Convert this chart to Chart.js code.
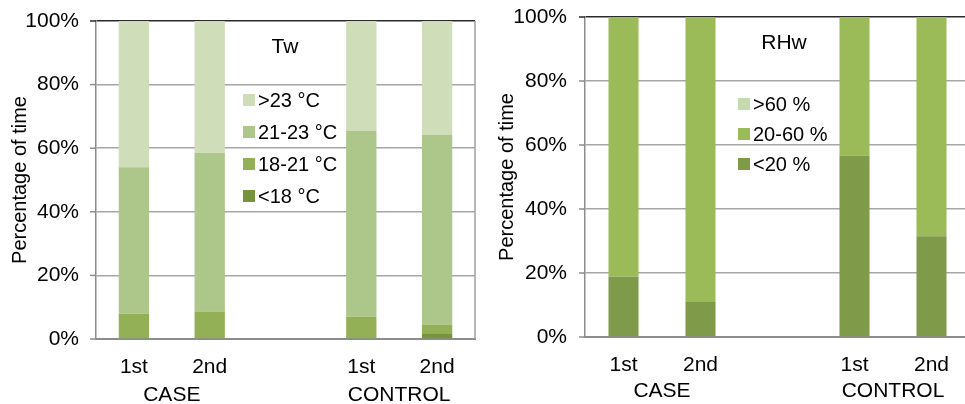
<!DOCTYPE html>
<html>
<head>
<meta charset="utf-8">
<script src="https://cdn.jsdelivr.net/npm/chart.js@4/dist/chart.umd.min.js"></script>
<style>
  body { margin: 0; background: #fff; overflow: hidden; width: 965px; height: 404px; position: relative; }
  .box { position: absolute; top: 0; height: 404px; }
</style>
</head>
<body>
<div class="box" style="left:0;width:482px"><canvas id="tw" width="482" height="404"></canvas></div>
<div class="box" style="left:482px;width:493px"><canvas id="rh" width="493" height="404"></canvas></div>
<script>
// bars: 1st/2nd for CASE, empty slot, 1st/2nd for CONTROL
var periods = ['1st', '2nd', '', '1st', '2nd'];
var groups = ['CASE', 'CONTROL'];
var yTicks = [0, 20, 40, 60, 80, 100];

var twLabels = ['<18 °C', '18-21 °C', '21-23 °C', '>23 °C'];
var twBelow18 = [0, 0, null, 0, 1.8];
var tw18to21 = [8.0, 8.6, null, 7.0, 2.7];
var tw21to23 = [46.0, 49.9, null, 58.4, 59.7];
var twAbove23 = [46.0, 41.5, null, 34.6, 35.8];

var rhLabels = ['<20 %', '20-60 %', '>60 %'];
var rhBelow20 = [18.8, 10.9, null, 56.7, 31.5];
var rh20to60 = [81.2, 89.1, null, 43.3, 68.5];
var rhAbove60 = [0, 0, null, 0, 0];

var FONT = "'Liberation Sans', Arial, sans-serif";

// legend + title inside the plot, group labels, y tick marks and right border
var extras = {
  id: 'extras',
  afterDraw: function (chart) {
    var o = chart.options.plugins.extras;
    var ctx = chart.ctx;
    var a = chart.chartArea;
    var ys = chart.scales.y;
    ctx.save();
    ctx.strokeStyle = '#a0a0a0';
    ctx.lineWidth = 1.5;
    ctx.beginPath();
    ctx.moveTo(a.right, a.top);
    ctx.lineTo(a.right, a.bottom);
    ctx.stroke();

    // short outside tick marks on the y axis
    yTicks.forEach(function (v) {
      var y = ys.getPixelForValue(v);
      ctx.strokeStyle = v === 100 ? '#2a2a2a' : '#8c8c8c';
      ctx.beginPath();
      ctx.moveTo(a.left - 6, y);
      ctx.lineTo(a.left, y);
      ctx.stroke();
    });

    ctx.fillStyle = '#000';
    ctx.textBaseline = 'middle';
    ctx.font = '21px ' + FONT;
    ctx.textAlign = 'center';
    ctx.fillText(o.title, o.titleX, o.titleY);

    ctx.font = '20px ' + FONT;
    ctx.textAlign = 'left';
    var ds = chart.data.datasets.slice().reverse();
    ds.forEach(function (d, i) {
      var y = o.legendY + i * o.rowGap;
      ctx.fillStyle = d.backgroundColor;
      ctx.fillRect(o.legendX, y - 6, 12, 12);
      ctx.fillStyle = '#000';
      ctx.fillText(d.label, o.legendX + 15, y + 1);
    });

    // group labels under the period labels
    var xs = chart.scales.x;
    ctx.font = '21px ' + FONT;
    ctx.textAlign = 'center';
    var idx = [[0, 1], [3, 4]];
    groups.forEach(function (g, i) {
      var x = (xs.getPixelForValue(idx[i][0]) + xs.getPixelForValue(idx[i][1])) / 2;
      ctx.fillText(g, x, a.bottom + o.groupY);
    });
    ctx.restore();
  }
};

function makeChart(id, labels, series, colors, opt) {
  var datasets = series.map(function (s, i) {
    return {
      label: labels[i],
      data: s,
      backgroundColor: colors[i],
      borderWidth: 0,
      categoryPercentage: 1.0,
      barPercentage: opt.barPct
    };
  });
  return new Chart(document.getElementById(id), {
    type: 'bar',
    data: { labels: periods, datasets: datasets },
    plugins: [extras],
    options: {
      responsive: false,
      animation: false,
      devicePixelRatio: 1,
      layout: { padding: { top: opt.top, right: opt.right, left: 0, bottom: 0 } },
      plugins: {
        legend: { display: false },
        tooltip: { enabled: false },
        extras: opt.extras
      },
      scales: {
        x: {
          stacked: true,
          grid: { display: false },
          border: { color: '#8c8c8c', width: 2 },
          ticks: { color: '#000', font: { family: FONT, size: 21 }, padding: opt.xPad, maxRotation: 0 },
          afterFit: function (s) { s.height = opt.xHeight; }
        },
        y: {
          stacked: true,
          min: 0,
          max: 100,
          afterBuildTicks: function (s) { s.ticks = yTicks.map(function (v) { return { value: v }; }); },
          grid: {
            color: function (c) { return c.tick && c.tick.value === 100 ? '#2a2a2a' : '#a6a6a6'; },
            lineWidth: 1.5,
            tickLength: opt.tickGap,
            tickColor: 'rgba(0,0,0,0)'
          },
          border: { color: '#8c8c8c', width: 1.5 },
          ticks: {
            color: '#000',
            font: { family: FONT, size: 21 },
            padding: 0,
            callback: function (v) { return v + '%'; }
          },
          title: {
            display: true,
            text: 'Percentage of time',
            color: '#000',
            font: { family: FONT, size: 20 },
            padding: { top: opt.titlePad, bottom: 0 }
          },
          afterFit: function (s) { s.width = opt.yWidth; }
        }
      }
    }
  });
}

makeChart('tw', twLabels, [twBelow18, tw18to21, tw21to23, twAbove23],
  ['#77933c', '#93b057', '#adc68a', '#cfddb9'],
  {
    barPct: 0.4, top: 21, right: 7, xHeight: 65, yWidth: 96, xPad: 8, tickGap: 17, titlePad: 8,
    extras: { title: 'Tw', titleX: 285, titleY: 47, legendX: 243, legendY: 100, rowGap: 32, groupY: 56 }
  });

makeChart('rh', rhLabels, [rhBelow20, rh20to60, rhAbove60],
  ['#7f9a48', '#9bbb59', '#c6d9b0'],
  {
    barPct: 0.39, top: 17, right: 5, xHeight: 67, yWidth: 103, xPad: 8, tickGap: 18, titlePad: 13,
    extras: { title: 'RHw', titleX: 302, titleY: 43, legendX: 256, legendY: 104, rowGap: 30, groupY: 54 }
  });
</script>
</body>
</html>
